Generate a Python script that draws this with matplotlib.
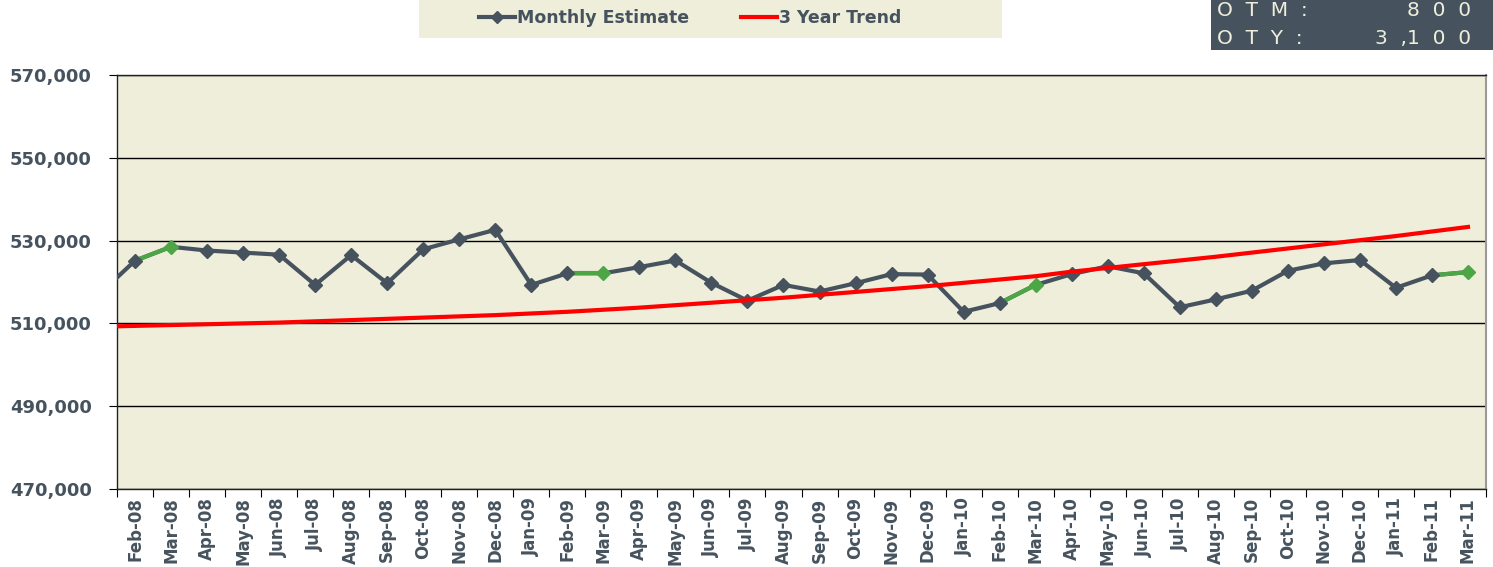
import matplotlib.pyplot as plt
from matplotlib.lines import Line2D
from matplotlib.patches import Rectangle
from matplotlib.ticker import FuncFormatter, FixedLocator

# months on the category axis
months = ["Feb-08", "Mar-08", "Apr-08", "May-08", "Jun-08", "Jul-08", "Aug-08", "Sep-08",
          "Oct-08", "Nov-08", "Dec-08", "Jan-09", "Feb-09", "Mar-09", "Apr-09", "May-09",
          "Jun-09", "Jul-09", "Aug-09", "Sep-09", "Oct-09", "Nov-09", "Dec-09", "Jan-10",
          "Feb-10", "Mar-10", "Apr-10", "May-10", "Jun-10", "Jul-10", "Aug-10", "Sep-10",
          "Oct-10", "Nov-10", "Dec-10", "Jan-11", "Feb-11", "Mar-11"]

monthly_estimate = [525150, 528500, 527600, 527100, 526600, 519300, 526500, 519700,
                    527900, 530300, 532600, 519300, 522100, 522100, 523600, 525200,
                    519800, 515500, 519300, 517700, 519700, 521900, 521800, 512800,
                    514900, 519300, 521900, 523800, 522100, 513900, 515800, 517900,
                    522700, 524500, 525300, 518600, 521600, 522400]

trend = [509400, 509600, 509800, 510000, 510200, 510500, 510800, 511100,
         511400, 511700, 512000, 512400, 512800, 513300, 513800, 514400,
         515000, 515600, 516200, 516900, 517600, 518300, 519000, 519800,
         520600, 521400, 522500, 523400, 524300, 525200, 526100, 527100,
         528100, 529100, 530100, 531100, 532200, 533300]

# month before the first category (line enters from the left edge)
prior_estimate = 517000
prior_trend = 509200

# March points are highlighted in green
green_months = ["Mar-08", "Mar-09", "Mar-10", "Mar-11"]

otm_value = "8  0  0"
oty_value = "3  ,1  0  0"

slate = "#46535E"
beige = "#EFEEDA"
green = "#4CA646"
red = "#FF0000"

fig = plt.figure(figsize=(14.93, 5.67), dpi=100)
ax = fig.add_axes([117 / 1493, 1 - 489 / 567, 1369 / 1493, 414 / 567])
ax.set_facecolor(beige)

x = list(range(len(months)))
xs = [-1] + x

ax.plot(xs, [prior_estimate] + monthly_estimate, color=slate, lw=3, zorder=3,
        solid_joinstyle="round")

green_idx = [months.index(m) for m in green_months]
for i in green_idx:
    ax.plot([i - 1, i], [monthly_estimate[i - 1], monthly_estimate[i]],
            color=green, lw=3, zorder=4)

other_idx = [i for i in x if i not in green_idx]
ax.plot(other_idx, [monthly_estimate[i] for i in other_idx], "D", color=slate,
        markersize=7.5, zorder=5, ls="none")
ax.plot(green_idx, [monthly_estimate[i] for i in green_idx], "D", color=green,
        markersize=7.5, zorder=5, ls="none")

ax.plot(xs, [prior_trend] + trend, color=red, lw=3, zorder=6)

ax.set_xlim(-0.5, len(months) - 0.5)
ax.set_ylim(470000, 570000)
ax.set_yticks(range(470000, 570001, 20000))
ax.yaxis.set_major_formatter(FuncFormatter(lambda v, p: f"{int(v):,}"))
ax.grid(axis="y", color="black", lw=1, zorder=1)
ax.set_axisbelow(True)

ax.xaxis.set_major_locator(FixedLocator([i - 0.5 for i in range(len(months) + 1)]))
ax.xaxis.set_major_formatter(FuncFormatter(lambda v, p: ""))
ax.set_xticks(x, minor=True)
ax.set_xticklabels(months, minor=True, rotation=90, fontsize=12, fontweight="bold",
                   color=slate, va="top")
ax.tick_params(axis="x", which="major", direction="out", length=6, color="black")
ax.tick_params(axis="x", which="minor", length=0, pad=6)
ax.tick_params(axis="y", direction="out", length=6, pad=12, color="black",
               labelsize=13, labelcolor=slate)
for lab in ax.get_yticklabels():
    lab.set_fontweight("bold")

for side in ["left", "bottom", "top"]:
    ax.spines[side].set_color("#222222")
    ax.spines[side].set_linewidth(1)
ax.spines["right"].set_color("#9A9A9A")
ax.spines["right"].set_linewidth(1.5)

# legend box on top
fig.patches.append(Rectangle((419 / 1493, 1 - 38 / 567), 583 / 1493, 38 / 567,
                             transform=fig.transFigure, facecolor=beige,
                             edgecolor="none", zorder=0))
handles = [Line2D([], [], color=slate, lw=3, marker="D", markersize=6),
           Line2D([], [], color=red, lw=3)]
fig.legend(handles, ["Monthly Estimate", "3 Year Trend"], loc="center left",
           bbox_to_anchor=(463 / 1493, 1 - 18 / 567), ncol=2, frameon=False,
           handlelength=2.1, handletextpad=0.1, columnspacing=3.0,
           prop={"weight": "bold", "size": 12.5}, labelcolor=slate)

# OTM / OTY box at top right
fig.patches.append(Rectangle((1211 / 1493, 1 - 50 / 567), 282 / 1493, 50 / 567,
                             transform=fig.transFigure, facecolor=slate,
                             edgecolor="none", zorder=0))
fig.text(1217 / 1493, 1 - 16.5 / 567, "O  T  M  :", color=beige, fontsize=14.5,
         va="baseline", ha="left")
fig.text(1471 / 1493, 1 - 16.5 / 567, otm_value, color=beige, fontsize=14.5,
         va="baseline", ha="right")
fig.text(1217 / 1493, 1 - 44 / 567, "O  T  Y  :", color=beige, fontsize=14.5,
         va="baseline", ha="left")
fig.text(1471 / 1493, 1 - 44 / 567, oty_value, color=beige, fontsize=14.5,
         va="baseline", ha="right")

fig.savefig("out.png", dpi=100)
